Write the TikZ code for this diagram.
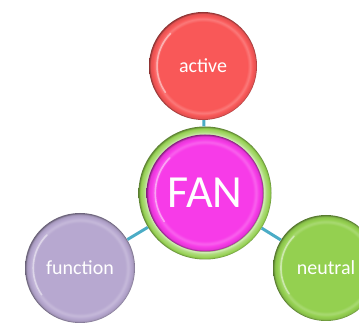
\documentclass[tikz,border=0pt]{standalone}
\usepackage{fontspec}
\setmainfont{Carlito}
\usetikzlibrary{backgrounds}
\definecolor{rosso}{HTML}{F95858}
\definecolor{fuchsia}{HTML}{F73BE8}
\definecolor{lime}{HTML}{94D050}
\definecolor{lilac}{HTML}{B7A8D0}
\definecolor{wire}{HTML}{4BACC6}
\colorlet{btn}{gray}

% flat face with a bevelled rim
\pgfdeclareradialshading[btn]{button}{\pgfpoint{0bp}{0bp}}{%
  color(0bp)=(btn); color(20.5bp)=(btn); color(21.8bp)=(btn!80!white);
  color(23bp)=(btn); color(24.2bp)=(btn!92!black);
  color(25bp)=(btn!55!black); color(50bp)=(btn!55!black)}
% pale bevelled ring round the centre
\pgfdeclareradialshading[btn]{ring}{\pgfpoint{0bp}{0bp}}{%
  color(0bp)=(btn); color(21.6bp)=(btn!70!black); color(22bp)=(btn!35!white);
  color(23bp)=(btn!75!white); color(24.3bp)=(btn);
  color(25bp)=(btn!60!black); color(50bp)=(btn!60!black)}

\begin{document}
\begin{tikzpicture}[x=1pt,y=1pt,
    btn/.code={\colorlet{btn}{#1}},
    bubble/.style={circle,shading=button,btn=#1,inner sep=0pt,text=white,
                   font=\fontsize{20}{24}\selectfont},
    glint/.style={white,opacity=.45,line width=1.6pt,line cap=round},
    link/.style={wire,line width=3pt}]
  \clip (0,0) rectangle (359,324);
  \node[bubble=rosso,minimum size=108pt] (act) at (203,258) {active};
  \node[bubble=lime,shading=ring,minimum size=133pt] (fan) at (205,131) {};
  \node[bubble=fuchsia,minimum size=117pt,font=\fontsize{46}{50}\selectfont]
    (fancore) at (fan.center) {FAN};
  \node[bubble=lilac,minimum size=110pt] (fun) at (80,56) {function};
  \node[bubble=lime,minimum size=106pt] (neu) at (326,56) {neutral};
  % light edge on the left of each face
  \foreach \n/\r in {act/54,fancore/58.5,fun/55,neu/53}
    \draw[glint] ([shift={(135:0.85*\r pt)}]\n.center)
      arc[start angle=135,end angle=215,radius=0.85*\r pt];
  \draw[link] (fan) -- (act);
  \draw[link] (fan) -- (fun);
  \draw[link] (fan) -- (neu);
\end{tikzpicture}
\end{document}
